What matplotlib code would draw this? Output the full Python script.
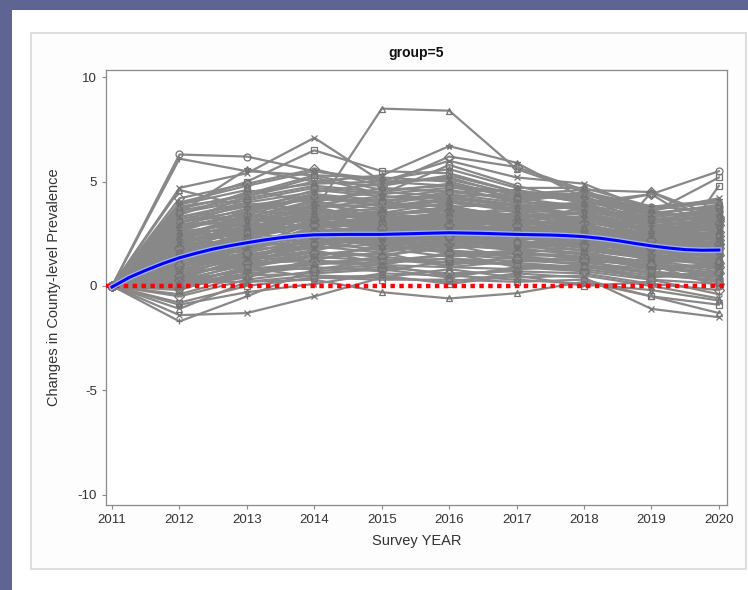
import matplotlib.pyplot as plt
import matplotlib.patheffects as pe
from matplotlib.patches import Rectangle

plt.rcParams['font.family'] = ['Liberation Sans', 'DejaVu Sans']
plt.rcParams['axes.unicode_minus'] = False

# survey years and county-level changes (2011 is the baseline, so every county starts at 0)
years = [2011, 2012, 2013, 2014, 2015, 2016, 2017, 2018, 2019, 2020]

county_changes = [
    [6.3, 6.2, 5.5, 5.0, 4.8, 4.5, 4.0, 3.8, 3.6],
    [6.1, 5.5, 5.3, 5.2, 5.0, 4.2, 4.4, 3.5, 3.3],
    [4.7, 5.4, 7.1, 5.0, 6.0, 5.2, 4.9, 3.6, 4.2],
    [4.6, 3.8, 3.6, 8.5, 8.4, 5.6, 4.5, 3.8, 4.0],
    [3.9, 5.0, 6.5, 5.5, 5.4, 4.5, 4.0, 3.5, 5.2],
    [3.5, 5.6, 5.0, 5.3, 6.7, 5.9, 4.2, 3.0, 3.8],
    [4.2, 4.9, 5.6, 4.8, 6.2, 5.7, 4.6, 4.5, 3.3],
    [3.0, 4.3, 5.2, 4.4, 5.8, 4.8, 4.0, 4.4, 5.5],
    [-1.7, -0.5, 0.8, 1.0, 0.5, 0.8, 1.0, 0.3, -0.4],
    [-1.4, -1.3, -0.5, 0.4, 0.2, 0.6, 0.4, -1.1, -1.5],
    [-1.1, 0.2, 0.3, -0.3, -0.6, -0.35, 0.2, -0.5, -1.3],
    [-0.8, 0.0, 0.4, 0.5, 0.1, 0.5, 0.0, 0.2, 4.8],
    [-0.4, 0.5, 1.2, 1.0, 1.6, 0.9, 0.8, 4.5, 3.0],
    [0.5, 2.6, 3.0, 3.2, 3.5, 3.6, 3.8, 4.4, 2.4],
    [1.2, 2.0, 2.5, 2.3, 2.6, 2.4, 2.2, 1.8, 1.6],
    [2.5, 3.1, 3.6, 3.4, 3.8, 3.3, 3.5, 2.7, 2.9],
    [0.3, 1.0, 1.5, 1.8, 1.4, 1.6, 1.3, 0.9, 0.5],
    [1.8, 2.9, 3.2, 2.7, 3.0, 3.1, 2.6, 2.2, 2.5],
    [0.8, 1.4, 2.0, 2.2, 1.9, 2.3, 2.1, 1.5, 1.1],
    [3.2, 3.8, 4.4, 4.1, 4.3, 3.9, 3.7, 3.1, 2.8],
    [2.0, 1.6, 2.8, 3.0, 2.5, 2.0, 2.4, 1.7, 2.0],
    [-0.2, 0.8, 1.1, 1.3, 1.0, 1.4, 1.2, 0.6, 0.2],
    [1.5, 2.4, 3.0, 3.3, 3.4, 2.8, 2.9, 2.4, 1.8],
    [2.8, 3.5, 2.6, 2.4, 3.1, 3.5, 3.0, 2.0, 2.6],
    [0.6, 2.2, 1.7, 2.6, 2.2, 1.8, 2.0, 1.2, 1.4],
    [3.6, 4.2, 4.8, 4.5, 4.9, 4.2, 4.3, 3.2, 3.5],
    [1.0, 1.2, 2.3, 1.9, 2.8, 2.6, 1.8, 2.0, 0.9],
    [2.2, 2.7, 3.3, 3.6, 2.9, 3.0, 3.2, 2.6, 2.2],
    [0.1, 0.6, 0.9, 0.7, 1.2, 1.0, 0.8, 0.4, 0.7],
    [1.6, 3.0, 2.2, 2.0, 2.4, 2.2, 2.7, 1.3, 1.7],
    [2.6, 2.3, 3.8, 3.9, 3.6, 3.4, 3.3, 2.9, 3.1],
    [0.9, 1.8, 2.6, 2.9, 3.2, 2.5, 2.3, 1.9, 2.1],
    [3.9, 4.6, 4.0, 4.7, 4.5, 4.6, 4.1, 3.4, 3.9],
    [1.3, 1.5, 1.9, 2.4, 2.0, 1.7, 1.6, 1.1, 1.3],
    [2.3, 3.3, 4.1, 3.2, 3.3, 3.8, 3.4, 2.3, 2.6],
    [0.4, 1.3, 1.6, 1.5, 1.8, 2.0, 1.5, 1.0, 0.0],
    [1.9, 2.6, 2.9, 3.1, 2.7, 2.7, 2.8, 2.1, 2.4],
    [3.4, 4.5, 4.9, 5.0, 5.1, 4.4, 4.6, 3.3, 3.7],
    [0.0, 0.4, 1.3, 1.6, 0.9, 1.2, 1.1, 0.8, 1.0],
    [1.1, 2.5, 3.4, 2.8, 3.7, 3.2, 2.5, 2.5, 1.9],
    [2.7, 2.0, 2.4, 2.1, 2.3, 1.9, 2.1, 1.6, 1.5],
    [1.4, 3.6, 4.3, 3.8, 4.1, 3.7, 3.9, 2.8, 3.2],
    [0.7, 0.9, 1.4, 1.2, 1.5, 1.3, 1.0, 0.7, 0.4],
    [2.1, 2.8, 3.5, 3.7, 3.9, 3.0, 3.1, 2.5, 2.7],
    [3.0, 3.9, 3.7, 4.2, 4.6, 4.1, 3.6, 3.0, 3.4],
    [0.2, 1.1, 2.1, 2.5, 2.1, 2.4, 1.9, 1.4, 1.2],
    [1.7, 1.9, 2.7, 2.6, 3.1, 2.9, 2.6, 2.3, 1.6],
    [2.4, 3.4, 3.1, 3.5, 3.6, 3.2, 3.7, 3.0, 2.3],
    [-0.5, 0.3, 0.7, 0.9, 0.6, 0.7, 0.6, 0.1, -0.2],
    [1.0, 2.1, 3.7, 3.0, 2.6, 2.8, 2.4, 1.6, 2.2],
    [3.3, 4.0, 4.5, 4.9, 5.2, 4.3, 4.4, 3.6, 3.0],
    [1.6, 1.7, 2.1, 1.7, 2.2, 2.1, 1.7, 1.4, 1.0],
    [0.5, 1.5, 1.8, 2.0, 1.7, 1.5, 1.4, 1.2, 0.8],
    [2.9, 3.7, 4.2, 3.9, 4.4, 4.0, 3.9, 3.3, 3.6],
    [1.2, 2.3, 2.4, 2.9, 2.5, 2.3, 2.2, 1.8, 2.0],
    [2.0, 2.9, 3.9, 3.5, 4.0, 3.6, 3.2, 2.7, 3.1],
    [0.3, 0.7, 1.0, 1.4, 1.1, 1.1, 0.9, 0.5, 0.3],
    [1.8, 2.4, 3.1, 2.6, 2.8, 2.5, 3.0, 2.2, 1.8],
    [2.5, 3.2, 2.8, 3.1, 3.3, 3.3, 2.7, 1.9, 2.4],
    [0.8, 1.6, 2.2, 2.1, 2.4, 1.9, 2.2, 1.7, 1.4],
    [3.7, 4.4, 5.3, 4.6, 4.8, 4.0, 4.5, 3.1, 3.4],
    [1.4, 2.2, 2.6, 2.4, 2.0, 2.6, 2.3, 1.5, 1.3],
    [-0.1, 0.5, 0.6, 0.8, 0.4, 0.9, 0.7, 0.3, 0.1],
    [2.3, 1.9, 3.0, 2.8, 3.5, 3.1, 2.9, 2.4, 2.8],
    [1.1, 1.3, 1.7, 2.3, 1.9, 1.8, 1.5, 0.9, 0.6],
    [3.1, 3.6, 4.6, 4.3, 4.2, 3.8, 4.0, 2.8, 3.3],
    [0.6, 1.9, 2.8, 2.2, 3.0, 2.7, 2.1, 2.1, 1.7],
    [2.2, 2.5, 3.3, 3.0, 2.7, 2.9, 2.7, 2.0, 2.5],
    [4.0, 4.8, 5.5, 5.1, 5.6, 4.7, 4.7, 3.8, 4.1],
    [1.5, 1.1, 1.2, 1.1, 1.3, 1.2, 1.3, 1.0, 0.9],
    [0.9, 2.7, 3.2, 3.6, 2.3, 2.2, 2.5, 1.3, 1.9],
    [2.6, 3.0, 3.5, 3.4, 3.7, 3.4, 3.3, 2.6, 3.0],
    [0.2, 0.2, 0.5, 0.4, 0.8, 0.4, 0.5, 0.0, -0.6],
    [1.3, 2.0, 2.0, 2.5, 2.9, 2.4, 2.0, 1.9, 2.3],
    [0.1, 0.9, 0.4, 0.3, 0.3, 0.2, 0.3, -0.5, -0.9],
    [-0.9, -0.3, 0.1, 0.6, 0.5, 0.3, 0.1, -0.2, -0.7],
    [1.0, 1.8, 2.3, 2.6, 2.3, 2.1, 2.0, 1.6, 1.5],
    [2.4, 2.6, 2.9, 2.5, 3.2, 2.8, 2.6, 2.2, 2.0],
    [0.4, 1.2, 1.9, 1.6, 2.1, 1.9, 1.7, 1.3, 1.0],
    [1.7, 2.8, 3.6, 3.3, 3.1, 3.5, 3.1, 2.4, 2.6],
    [2.9, 3.3, 4.0, 3.7, 4.1, 3.6, 3.5, 2.9, 3.2],
    [0.6, 1.0, 1.4, 1.9, 1.6, 1.4, 1.6, 1.1, 0.7],
    [1.3, 2.7, 2.8, 3.2, 2.7, 3.2, 2.8, 2.3, 2.2],
    [2.0, 2.2, 3.2, 3.4, 3.6, 3.1, 3.0, 2.8, 2.9],
    [3.5, 4.1, 4.7, 4.4, 4.7, 4.5, 4.2, 3.5, 3.8],
    [0.2, 0.8, 1.7, 1.1, 1.5, 1.7, 1.2, 0.6, 0.5],
    [1.5, 1.4, 2.2, 2.2, 2.5, 2.0, 2.3, 1.6, 1.8],
    [2.6, 3.6, 3.4, 4.0, 3.8, 3.9, 3.4, 2.7, 2.7],
    [0.9, 2.0, 2.5, 2.7, 2.2, 2.4, 2.6, 2.0, 1.6],
    [1.9, 3.1, 3.8, 3.1, 3.4, 3.0, 3.6, 2.5, 2.9],
    [0.3, 1.4, 1.2, 2.0, 1.6, 1.6, 1.4, 0.8, 1.1],
    [3.1, 3.4, 4.3, 4.0, 4.5, 4.2, 3.8, 3.2, 3.0],
    [1.2, 1.7, 2.7, 2.3, 2.7, 2.8, 2.1, 1.7, 1.9],
    [2.3, 3.0, 2.7, 3.3, 3.0, 3.3, 3.2, 2.8, 2.4],
    [0.7, 1.3, 2.4, 2.1, 1.8, 2.2, 1.8, 1.4, 1.5],
    [1.6, 2.5, 3.3, 2.9, 3.3, 2.7, 2.4, 2.1, 2.1],
    [2.8, 3.2, 3.9, 4.3, 4.0, 3.7, 3.8, 3.1, 3.3],
    [0.5, 1.1, 1.6, 1.4, 2.0, 1.3, 1.2, 1.0, 0.6],
    [1.4, 2.3, 2.9, 3.0, 2.4, 2.5, 2.7, 1.9, 1.7],
    [2.1, 2.6, 3.6, 2.7, 3.2, 3.4, 2.9, 2.3, 2.6],
    [3.3, 3.9, 4.1, 4.5, 4.3, 4.4, 4.1, 3.4, 3.5],
    [0.1, 0.5, 1.1, 1.0, 0.9, 0.8, 1.0, 0.6, 0.4],
    [1.1, 2.6, 2.0, 2.4, 2.6, 2.0, 2.5, 1.8, 2.4],
    [2.5, 2.8, 3.4, 3.2, 3.5, 3.0, 2.8, 2.5, 2.2],
    [1.8, 2.1, 2.6, 2.8, 2.9, 2.6, 2.4, 2.2, 2.0],
    [0.8, 1.5, 2.0, 2.3, 2.3, 2.1, 1.9, 1.5, 1.2],
    [2.7, 3.5, 4.4, 3.8, 4.2, 3.9, 3.7, 2.9, 3.1],
    [1.3, 1.9, 2.4, 2.0, 2.1, 2.3, 2.2, 1.6, 1.4],
    [3.8, 4.3, 5.0, 4.8, 5.3, 4.5, 4.4, 3.7, 4.0],
    [0.0, 0.9, 0.8, 1.2, 1.3, 1.0, 0.9, 0.7, 0.2],
    [2.2, 3.1, 3.7, 3.3, 3.8, 3.3, 3.5, 2.6, 2.8],
    [1.0, 1.6, 2.9, 2.5, 2.4, 2.9, 2.3, 1.8, 1.8],
]

loess_years = [2011, 2011.25, 2011.5, 2011.75, 2012, 2012.25, 2012.5, 2012.75,
               2013, 2013.25, 2013.5, 2013.75, 2014, 2014.5, 2015, 2015.5, 2016,
               2016.5, 2017, 2017.5, 2017.75, 2018, 2018.25, 2018.5, 2018.75,
               2019, 2019.25, 2019.5, 2019.75, 2020]
loess_values = [-0.05, 0.4, 0.75, 1.07, 1.35, 1.57, 1.77, 1.93,
                2.07, 2.2, 2.31, 2.4, 2.45, 2.47, 2.47, 2.51, 2.55,
                2.52, 2.47, 2.44, 2.41, 2.36, 2.28, 2.17, 2.04,
                1.92, 1.82, 1.74, 1.71, 1.72]

W, H = 748, 590
fig = plt.figure(figsize=(W / 100, H / 100), dpi=100)
fig.patch.set_facecolor('#5f6593')

# white slide area and the light grey graph frame
fig.patches.append(Rectangle((12 / W, 0), 1, (H - 10) / H, transform=fig.transFigure,
                             facecolor='white', edgecolor='none', zorder=-10))
fig.patches.append(Rectangle((31 / W, (H - 569) / H), (746 - 31) / W, (569 - 33) / H,
                             transform=fig.transFigure, facecolor='#fdfdfd',
                             edgecolor='#d8d8d8', linewidth=1.2, zorder=-9))

ax = fig.add_axes([106 / W, (H - 505) / H, (727 - 106) / W, (505 - 70) / H])
ax.set_facecolor('white')

markers = ['o', '+', 'x', '^', 's', '*', 'D']
for i, row in enumerate(county_changes):
    ax.plot(years, [0] + row, color='#888888', linewidth=1.6,
            marker=markers[i % len(markers)], markersize=5,
            markerfacecolor='none', markeredgecolor='#747474', markeredgewidth=0.9,
            zorder=2)

ax.axhline(0, color='#ff0000', linewidth=3.2, linestyle=(0, (1, 1.0)), zorder=3)

ax.plot(loess_years, loess_values, color='#0000ff', linewidth=2.2, zorder=4,
        solid_joinstyle='round',
        path_effects=[pe.Stroke(linewidth=4.0, foreground='#a5b6f2'), pe.Normal()])

ax.set_xlim(2010.91, 2020.12)
ax.set_ylim(-10.5, 10.35)
ax.set_xticks(years)
ax.set_yticks([-10, -5, 0, 5, 10])
ax.tick_params(axis='both', colors='#8a8a8a', labelcolor='#333333', labelsize=9.5,
               length=3, width=0.8)
for s in ax.spines.values():
    s.set_color('#8a8a8a')
    s.set_linewidth(0.9)

ax.set_title('group=5', fontsize=10, fontweight='bold', color='#111111', pad=9)
ax.set_xlabel('Survey YEAR', fontsize=10.5, color='#333333', labelpad=6)
ax.set_ylabel('Changes in County-level Prevalence', fontsize=10.5, color='#333333',
              labelpad=12)

fig.savefig('out.png', dpi=100, facecolor=fig.get_facecolor())
